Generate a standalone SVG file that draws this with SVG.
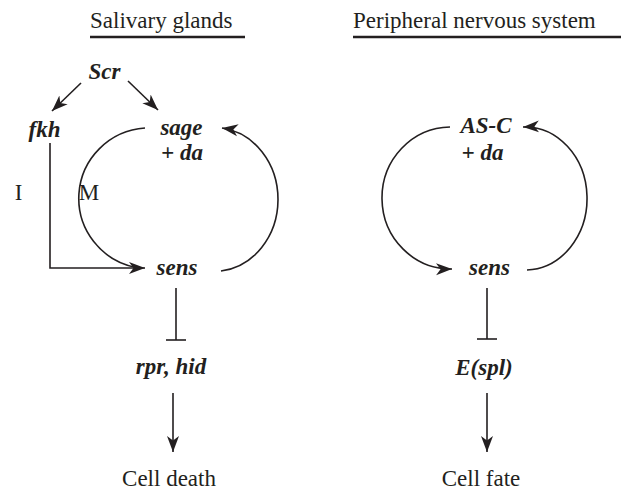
<svg xmlns="http://www.w3.org/2000/svg" width="621" height="491" viewBox="0 0 621 491">
<style>
.t{font-family:'Liberation Serif','Times New Roman','DejaVu Serif',serif;font-size:23px;fill:#231f20}
.g{font-family:'Liberation Serif','Times New Roman','DejaVu Serif',serif;font-size:23px;font-style:italic;font-weight:bold;fill:#231f20}
.c{fill:none;stroke:#231f20;stroke-width:1.6}
.u{fill:none;stroke:#231f20;stroke-width:2.6}
</style>
<defs>
<marker id="ah" markerWidth="18" markerHeight="14" refX="16" refY="7" orient="auto" markerUnits="userSpaceOnUse">
<path d="M0,1 L16,7 L0,13 L4.5,7 Z" fill="#231f20"/>
</marker>
</defs>
<g id="headers">
<text class="t" font-family="Liberation Serif, serif" x="90" y="28">Salivary glands</text>
<line class="u" x1="90" y1="37" x2="245" y2="37"/>
<text class="t" font-family="Liberation Serif, serif" x="353" y="28">Peripheral nervous system</text>
<line class="u" x1="353" y1="37" x2="621" y2="37"/>
</g>
<g id="node-scr"><text class="g" x="104.5" y="79" text-anchor="middle">Scr</text></g>
<g id="node-fkh"><text class="g" x="44.5" y="137" text-anchor="middle">fkh</text></g>
<g id="node-sage"><text class="g" x="181.5" y="135" text-anchor="middle">sage</text><text class="g" x="182" y="160" text-anchor="middle">+ da</text></g>
<g id="node-sens-sg"><text class="g" x="177" y="275" text-anchor="middle">sens</text></g>
<g id="node-rprhid"><text class="g" x="171" y="374" text-anchor="middle">rpr, hid</text></g>
<g id="node-celldeath"><text class="t" x="169" y="486" text-anchor="middle">Cell death</text></g>
<g id="label-I"><text class="t" x="18.5" y="200" text-anchor="middle">I</text></g>
<g id="label-M"><text class="t" x="89" y="200" text-anchor="middle">M</text></g>
<g id="node-asc"><text class="g" x="486" y="133" text-anchor="middle">AS-C</text><text class="g" x="482.5" y="160" text-anchor="middle">+ da</text></g>
<g id="node-sens-pns"><text class="g" x="489.5" y="275" text-anchor="middle">sens</text></g>
<g id="node-espl"><text class="g" x="484" y="375" text-anchor="middle">E(spl)</text></g>
<g id="node-cellfate"><text class="t" x="481" y="486" text-anchor="middle">Cell fate</text></g>
<g id="connectors">
<line class="c" x1="81" y1="83" x2="52" y2="111" marker-end="url(#ah)"/>
<line class="c" x1="128" y1="81" x2="158" y2="110" marker-end="url(#ah)"/>
<polyline class="c" points="50,143 50,268 145,268" marker-end="url(#ah)"/>
<path class="c" d="M145,128 A71,70.5 0 0 0 136,267.5"/>
<path class="c" d="M221,271 A64,72 0 0 0 222,128" marker-end="url(#ah)"/>
<line class="c" x1="176" y1="288" x2="176" y2="340"/>
<line class="c" x1="166" y1="340" x2="186" y2="340"/>
<line class="c" x1="173" y1="393" x2="173" y2="452" marker-end="url(#ah)"/>
<path class="c" d="M450,127 A69,71 0 0 0 452,269" marker-end="url(#ah)"/>
<path class="c" d="M527,270 A62,71.5 0 0 0 523,127" marker-end="url(#ah)"/>
<line class="c" x1="487" y1="288" x2="487" y2="339"/>
<line class="c" x1="477" y1="339" x2="497" y2="339"/>
<line class="c" x1="487" y1="393" x2="487" y2="452" marker-end="url(#ah)"/>
</g>
</svg>
